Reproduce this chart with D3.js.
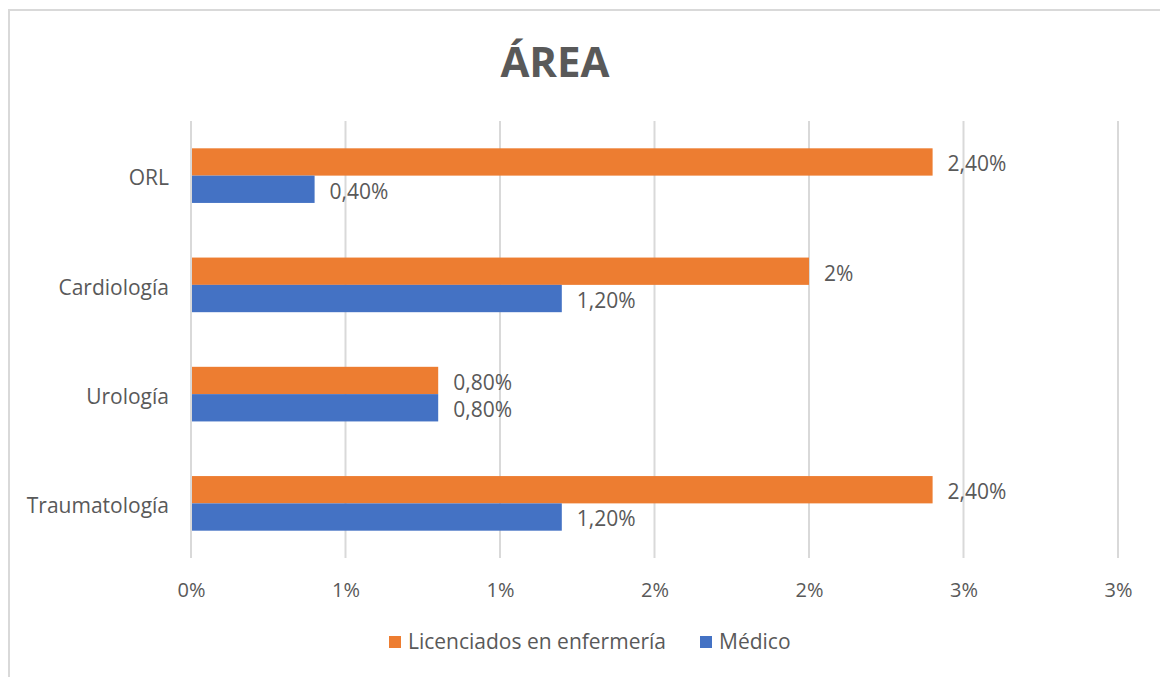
<!DOCTYPE html>
<html>
<head>
<meta charset="utf-8">
<script src="https://cdn.jsdelivr.net/npm/d3@7"></script>
<style>
  body { margin: 0; background: #fff; }
  text { font-family: "Open Sans", "DejaVu Sans", sans-serif; }
</style>
</head>
<body>
<div id="chart"></div>
<script>
// values (percent)
const categories = ["ORL", "Cardiología", "Urología", "Traumatología"];
const seriesNames = ["Licenciados en enfermería", "Médico"];
const enfermeria = [2.4, 2.0, 0.8, 2.4];
const medico = [0.4, 1.2, 0.8, 1.2];
const enfermeriaLabels = ["2,40%", "2%", "0,80%", "2,40%"];
const medicoLabels = ["0,40%", "1,20%", "0,80%", "1,20%"];
const tickValues = [0, 0.5, 1, 1.5, 2, 2.5, 3];
const tickLabels = ["0%", "1%", "1%", "2%", "2%", "3%", "3%"];
const colors = ["#ed7d31", "#4472c4"];

const W = 1160, H = 677;
const margin = {top: 121, right: 42, bottom: 119, left: 191};
const width = W - margin.left - margin.right,
      height = H - margin.top - margin.bottom;

const svg = d3.select("#chart").append("svg")
    .attr("width", W).attr("height", H);

// outer frame (only top and left visible)
svg.append("path")
    .attr("d", "M9,677 V10 H1160")
    .attr("fill", "none").attr("stroke", "#d9d9d9").attr("stroke-width", 2);

svg.append("text")
    .attr("x", 555).attr("y", 77)
    .attr("text-anchor", "middle")
    .attr("font-size", 42).attr("font-weight", "bold")
    .attr("fill", "#595959")
    .text("ÁREA");

const g = svg.append("g").attr("transform", "translate(" + margin.left + "," + margin.top + ")");

const x = d3.scaleLinear().domain([0, 3]).range([0, width]);
const y = d3.scaleBand().domain(categories).range([0, height]).paddingInner(0.5).paddingOuter(0.25);
const ySub = d3.scaleBand().domain([0, 1]).range([0, y.bandwidth()]);

// gridlines
g.append("g").selectAll("line").data(tickValues).join("line")
    .attr("x1", d => x(d)).attr("x2", d => x(d))
    .attr("y1", 0).attr("y2", height)
    .attr("stroke", "#d9d9d9").attr("stroke-width", 2);

// x axis labels
const xAxis = g.append("g")
    .attr("transform", "translate(0," + height + ")")
    .call(d3.axisBottom(x).tickValues(tickValues).tickFormat((d, i) => tickLabels[i]).tickSize(0).tickPadding(25));
xAxis.select(".domain").remove();
xAxis.selectAll("text").attr("font-size", 20).attr("fill", "#595959")
    .attr("font-family", "'Open Sans', sans-serif");

// y axis labels
const yAxis = g.append("g")
    .call(d3.axisLeft(y).tickSize(0).tickPadding(22));
yAxis.select(".domain").remove();
yAxis.selectAll("text").attr("font-size", 21).attr("fill", "#595959")
    .attr("font-family", "'Open Sans', sans-serif")
    .attr("y", 3);

const series = [
  {name: seriesNames[0], values: enfermeria, labels: enfermeriaLabels, color: colors[0]},
  {name: seriesNames[1], values: medico, labels: medicoLabels, color: colors[1]}
];

series.forEach((s, si) => {
  const rows = categories.map((c, i) => ({cat: c, v: s.values[i], label: s.labels[i]}));
  g.append("g").selectAll("rect").data(rows).join("rect")
      .attr("x", x(0) + 1)
      .attr("y", d => y(d.cat) + ySub(si))
      .attr("width", d => x(d.v) - x(0) - 1)
      .attr("height", ySub.bandwidth())
      .attr("fill", s.color);
  g.append("g").selectAll("text").data(rows).join("text")
      .attr("x", d => x(d.v) + 15)
      .attr("y", d => y(d.cat) + ySub(si) + ySub.bandwidth() / 2 + 2)
      .attr("dy", "0.35em")
      .attr("font-size", 21).attr("fill", "#595959")
      .text(d => d.label);
});

// legend
const legend = svg.append("g").attr("transform", "translate(389,642)");
let lx = 0;
series.forEach((s, i) => {
  const item = legend.append("g").attr("transform", "translate(" + lx + ",0)");
  item.append("rect").attr("x", 0).attr("y", -6).attr("width", 12).attr("height", 12).attr("fill", s.color);
  const t = item.append("text").attr("x", 19).attr("y", 0).attr("dy", "0.35em")
      .attr("font-size", 21).attr("fill", "#595959").text(s.name);
  lx += 19 + t.node().getComputedTextLength() + 34;
});
</script>
</body>
</html>
